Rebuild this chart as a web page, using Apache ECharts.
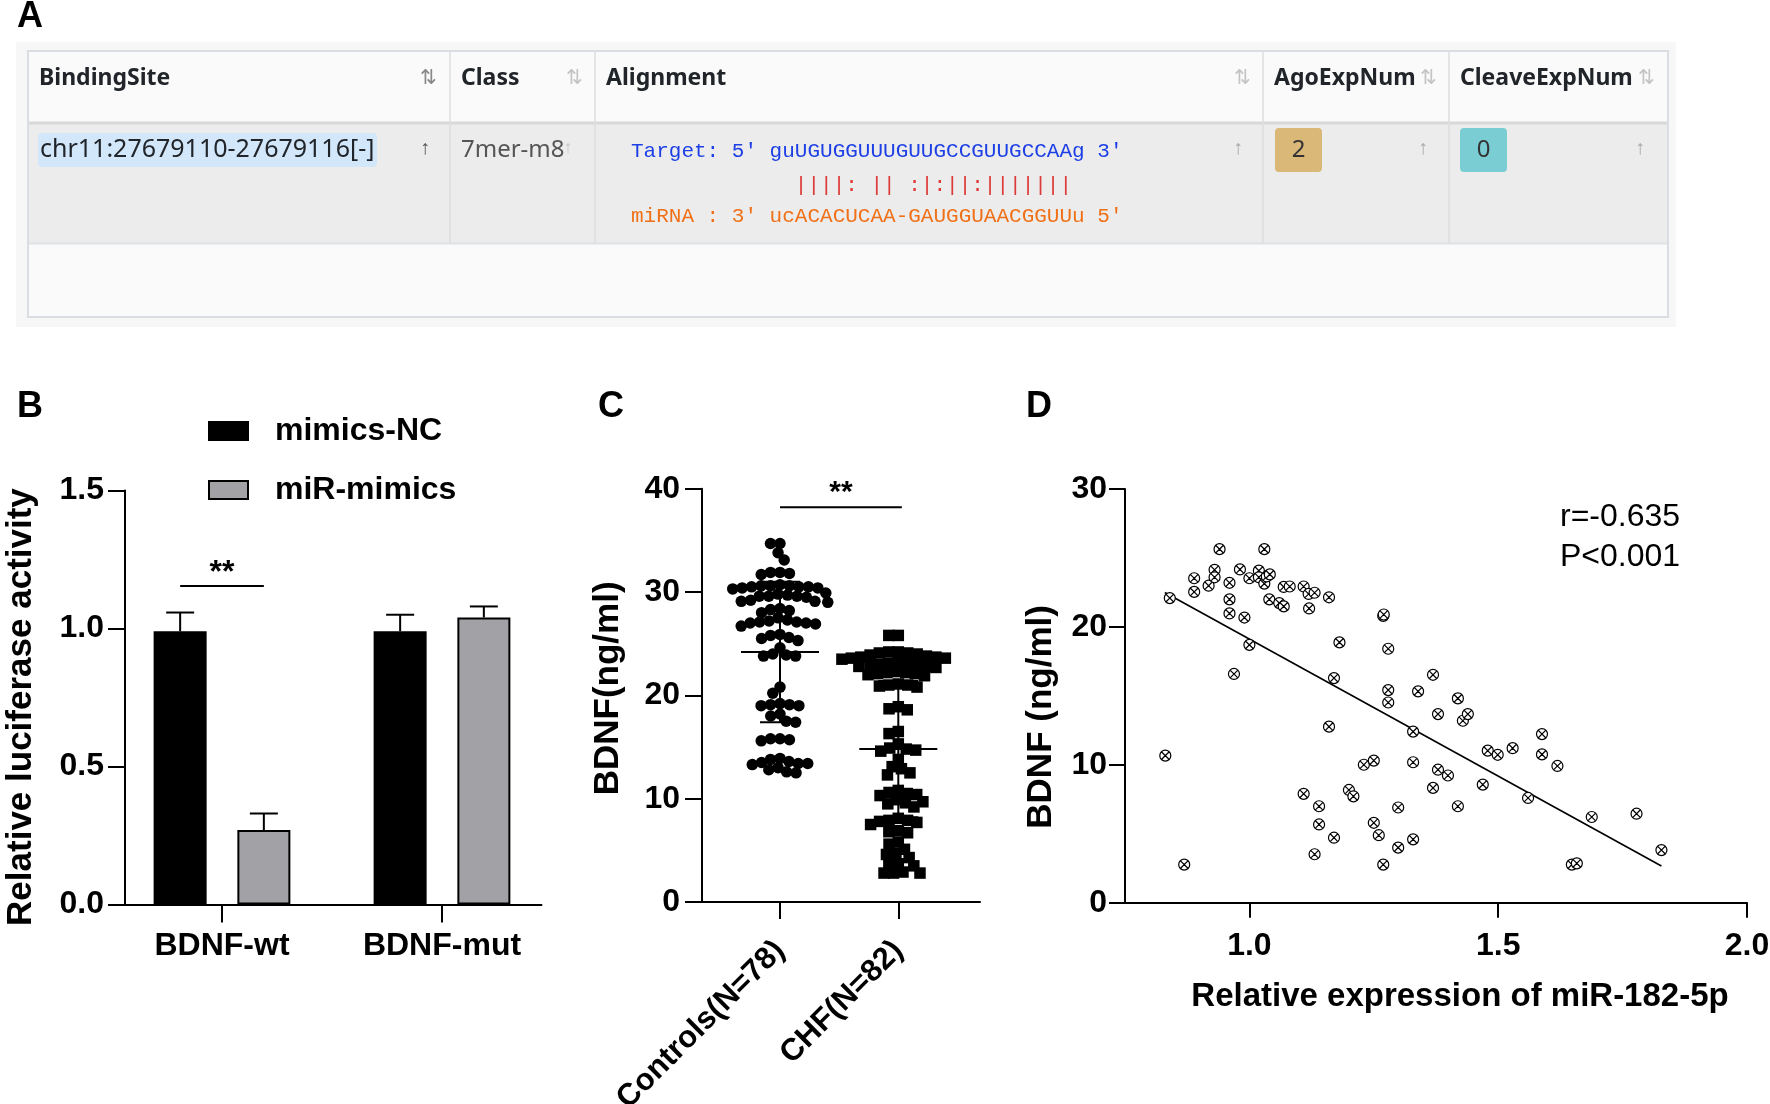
<!DOCTYPE html>
<html><head><meta charset="utf-8">
<script src="https://cdn.jsdelivr.net/npm/echarts@6/dist/echarts.min.js"></script>
<style>html,body{margin:0;padding:0;background:#fff}#c{width:1770px;height:1104px}</style>
</head><body><div id="c"></div>
<script>
// ================= DATA =================
// Panel A (table)
const tableHeaders = ['BindingSite', 'Class', 'Alignment', 'AgoExpNum', 'CleaveExpNum'];
const bindingSite = 'chr11:27679110-27679116[-]';
const siteClass = '7mer-m8';
const alignTarget = "Target: 5' guUGUGGUUUGUUGCCGUUGCCAAg 3'";
const alignPairs  = "             ||||: || :|:||:|||||||";
const alignMiRNA  = "miRNA : 3' ucACACUCAA-GAUGGUAACGGUUu 5'";
const agoExpNum = '2';
const cleaveExpNum = '0';

// Panel B (luciferase)
const bCategories = ['BDNF-wt', 'BDNF-mut'];
const bSeriesNames = ['mimics-NC', 'miR-mimics'];
const bMimicsNC = [0.99, 0.99];
const bMimicsNCErr = [0.068, 0.06];
const bMiRMimics = [0.27, 1.04];
const bMiRMimicsErr = [0.06, 0.04];
const bSigLevel = 1.154;
const bSigText = '**';

// Panel C (BDNF levels)
const cCategories = ['Controls(N=78)', 'CHF(N=82)'];
const cControls = [34.7, 34.7, 33.8, 33.1,
  31.9, 31.8, 31.9, 31.7,
  30.6, 30.5, 30.5, 30.4, 30.6, 30.5, 30.7, 30.4, 30.3, 30.6,
  29.6, 29.7, 29.5, 29.8, 29.6, 29.9, 29.6,
  29.1, 29.0, 29.2, 29.1,
  28.3, 28.2, 28.4, 28.0,
  27.1, 27.2, 27.0, 27.3, 26.9, 27.1, 27.5, 26.7, 27.0,
  25.8, 25.6, 25.3, 25.9, 25.5,
  23.9, 23.8, 24.0, 23.8, 24.6,
  20.8, 20.2,
  19.1, 19.0, 19.1, 19.0, 19.2,
  18.0, 18.2, 17.4, 17.5,
  15.8, 15.7, 15.8, 15.6,
  13.4, 13.3, 13.4, 13.6, 13.8, 13.9, 13.5, 13.0, 12.8, 12.6, 12.5];
const cCHF = [25.8, 25.8,
  24.2, 24.1, 24.0, 24.2, 24.1, 23.9,
  23.7, 23.6, 23.8, 23.5, 23.7, 23.6,
  23.1, 23.0, 23.2, 23.1, 22.9, 23.0,
  22.8, 22.7, 22.8,
  22.1, 22.2, 22.0, 22.1, 22.3, 22.2, 21.9,
  21.0, 20.9, 21.1, 20.8, 21.0,
  18.9, 18.6, 18.7,
  16.5, 16.3,
  15.3, 14.9, 14.7, 14.8, 14.6,
  13.8, 13.1, 12.9, 12.5, 12.3,
  10.8, 10.6, 10.4, 10.5, 10.3, 9.7, 9.9, 9.6, 9.5, 9.2,
  8.1, 7.9, 7.8, 7.9, 7.7, 7.5, 6.9, 6.8, 6.7,
  5.8, 5.6, 5.1, 4.7, 4.6, 4.3,
  3.7, 3.6, 3.5,
  2.8, 2.8, 2.8, 2.9];
const cMeans = [24.2, 14.8];
const cSDs = [6.8, 6.6];
const cSigFrom = 0, cSigTo = 1.03, cSigLevel = 38.2;
const cSigText = '**';

// Panel D (correlation)
const dPoints = [
  [0.831, 10.67], [0.840, 22.09], [0.869, 2.77], [0.889, 23.53], [0.889, 22.54],
  [0.918, 22.99], [0.930, 24.14], [0.930, 23.60], [0.940, 25.64], [0.960, 23.20],
  [0.960, 22.00], [0.960, 20.98], [0.969, 16.59], [0.981, 24.17], [0.990, 20.68],
  [1.000, 23.53], [1.000, 18.70], [1.019, 24.08], [1.019, 23.60], [1.030, 23.14],
  [1.030, 25.64], [1.035, 23.66], [1.041, 23.81], [1.040, 22.00], [1.060, 21.73],
  [1.069, 21.49], [1.069, 22.90], [1.081, 22.93], [1.109, 22.93], [1.119, 22.39],
  [1.131, 22.48], [1.120, 21.34], [1.160, 22.15], [1.109, 7.90], [1.140, 7.00],
  [1.140, 5.68], [1.131, 3.52], [1.160, 12.77], [1.170, 16.29], [1.170, 4.72],
  [1.181, 18.88], [1.200, 8.18], [1.209, 7.72], [1.230, 10.01], [1.250, 10.31],
  [1.250, 5.80], [1.260, 4.90], [1.269, 20.80], [1.270, 20.90], [1.269, 2.77],
  [1.279, 18.42], [1.279, 15.42], [1.279, 14.52], [1.299, 6.91], [1.299, 4.00],
  [1.329, 12.41], [1.329, 10.19], [1.329, 4.60], [1.339, 15.33], [1.369, 16.53],
  [1.369, 8.33], [1.379, 13.68], [1.379, 9.65], [1.399, 9.23], [1.419, 14.82],
  [1.419, 7.00], [1.429, 13.20], [1.439, 13.68], [1.469, 8.57], [1.479, 11.03],
  [1.499, 10.73], [1.529, 11.21], [1.560, 7.60], [1.588, 12.23], [1.588, 10.76],
  [1.619, 9.92], [1.648, 2.77], [1.658, 2.86], [1.688, 6.22], [1.778, 6.46],
  [1.828, 3.82]];
const dRegLine = [[0.83, 22.5], [1.828, 2.67]];
const dStatR = 'r=-0.635';
const dStatP = 'P<0.001';

// ================= LAYOUT / STYLE =================
const FONT = "'Liberation Sans', Arial, Helvetica, sans-serif";
const UIFONT = "'Noto Sans', 'Open Sans', sans-serif";
const MONO = "'Liberation Mono', 'DejaVu Sans Mono', monospace";
const gB = {left: 125, top: 490.5, width: 416.5, height: 414.1};
const gC = {left: 702, top: 488.7, width: 278, height: 413.3};
const gD = {left: 1125, top: 489, width: 622, height: 413.8};
const bXRange = [-0.4409, 1.4523];
const cXRange = [-0.6593, 1.6906];
const dXRange = [0.75, 2.0];
const BAR_OFF = 41.85;

const axLine = {show: true, onZero: false, lineStyle: {color: '#000', width: 2}};
function tick(len, custom) {
  const t = {show: true, length: len, lineStyle: {color: '#000', width: 2}};
  if (custom) t.customValues = custom;
  return t;
}
function lbl(size, margin, extra) {
  return Object.assign({color: '#000', fontFamily: FONT, fontWeight: 'bold', fontSize: size, margin: margin}, extra || {});
}
const nameStyle = (size, pad) => ({color: '#000', fontFamily: FONT, fontWeight: 'bold', fontSize: size, padding: pad});

// beeswarm horizontal layout (pixel based) for dot plot
function swarm(values, center, pxPerX, pxPerY, d) {
  const sorted = values.map(v => v).sort((a, b) => b - a);
  const placed = [];
  const out = [];
  sorted.forEach(v => {
    const y = v * pxPerY;
    const iv = [];
    placed.forEach(q => {
      const dy = Math.abs(q.y - y);
      if (dy < d) { const dx = Math.sqrt(d * d - dy * dy); iv.push([q.x - dx, q.x + dx]); }
    });
    const cands = [0];
    iv.forEach(r => cands.push(r[0], r[1]));
    cands.sort((a, b) => Math.abs(a) - Math.abs(b));
    let x = 0;
    for (const c of cands) {
      if (iv.every(r => c <= r[0] + 1e-6 || c >= r[1] - 1e-6)) { x = c; break; }
    }
    placed.push({x, y});
    out.push([center + x / pxPerX, v]);
  });
  return out;
}
const cPxX = gC.width / (cXRange[1] - cXRange[0]);
const cPxY = gC.height / 40;

function errBar(off) {
  return function (params, api) {
    const p0 = api.coord([api.value(0), api.value(1)]);
    const p1 = api.coord([api.value(0), api.value(1) + api.value(2)]);
    const cx = p0[0] + off;
    return {type: 'group', children: [
      {type: 'line', shape: {x1: cx, y1: p0[1], x2: cx, y2: p1[1]}, style: {stroke: '#000', lineWidth: 2}},
      {type: 'line', shape: {x1: cx - 14, y1: p1[1], x2: cx + 14, y2: p1[1]}, style: {stroke: '#000', lineWidth: 2}}
    ]};
  };
}

const graphics = [];
function txt(x, y, s, o) {
  graphics.push({type: 'text', x: x, y: y, silent: true,
    style: Object.assign({text: s, fill: '#000', font: 'bold 36px ' + FONT, textVerticalAlign: 'middle', textAlign: 'left'}, o || {})});
}
function rect(x, y, w, h, o) {
  graphics.push({type: 'rect', shape: {x: x, y: y, width: w, height: h, r: (o && o.r) || 0}, silent: true,
    style: Object.assign({fill: 'none'}, o && o.style)});
}
function hline(x1, y1, x2, y2, c, w) {
  graphics.push({type: 'line', shape: {x1, y1, x2, y2}, silent: true, style: {stroke: c, lineWidth: w}});
}

// ---- Panel A table ----
const cols = [28, 450, 595, 1263, 1449, 1668];
rect(16, 42, 1660, 285, {style: {fill: '#f7f7f7'}});
rect(28, 51, 1640, 71, {style: {fill: '#fafafa'}});
rect(28, 123, 1640, 120, {style: {fill: '#ececec'}});
rect(28, 244, 1640, 73, {style: {fill: '#fafafa'}});
hline(28, 123, 1668, 123, '#d8d8d8', 3);
hline(28, 243.5, 1668, 243.5, '#dfe2e5', 2);
for (let i = 1; i < cols.length - 1; i++) hline(cols[i], 51, cols[i], 243, '#dedede', 1.5);
rect(28, 51, 1640, 266, {style: {fill: 'none', stroke: '#dadde1', lineWidth: 2}});
const sortX = [428, 574, 1242, 1428, 1646];
tableHeaders.forEach((h, i) => {
  txt(cols[i] + 11, 78, h, {font: 'bold 23px ' + UIFONT, fill: '#212529'});
  txt(sortX[i], 78, '⇅', {font: '20px ' + FONT, fill: i === 0 ? '#888' : '#c4c4c4', textAlign: 'center'});
});
rect(38, 133, 339, 34, {r: 4, style: {fill: '#d3e7fb'}});
txt(40, 150, bindingSite, {font: '25px ' + UIFONT, fill: '#212529'});
txt(425, 148, '↑', {font: '20px ' + FONT, fill: '#555', textAlign: 'center'});
txt(461, 150, siteClass, {font: '24px ' + UIFONT, fill: '#555'});
txt(568, 148, '↑', {font: '18px ' + FONT, fill: '#c8c8c8', textAlign: 'center'});
txt(631, 151, alignTarget, {font: '21px ' + MONO, fill: '#1d3fe6'});
txt(631, 185, alignPairs, {font: '21px ' + MONO, fill: '#dd3a3a'});
txt(631, 216, alignMiRNA, {font: '21px ' + MONO, fill: '#f07018'});
[1238, 1423, 1640].forEach(x => txt(x, 148, '↑', {font: '20px ' + FONT, fill: '#aaa', textAlign: 'center'}));
rect(1275, 128, 47, 44, {r: 4, style: {fill: '#d9b878'}});
txt(1298.5, 150, agoExpNum, {font: '24px ' + UIFONT, fill: '#333', textAlign: 'center'});
rect(1460, 128, 47, 44, {r: 4, style: {fill: '#79cdd3'}});
txt(1483.5, 150, cleaveExpNum, {font: '24px ' + UIFONT, fill: '#333', textAlign: 'center'});

// panel letters
txt(17, 17, 'A', {font: 'bold 36px ' + FONT});
txt(17, 407, 'B', {font: 'bold 36px ' + FONT});
txt(598, 407, 'C', {font: 'bold 36px ' + FONT});
txt(1026, 407, 'D', {font: 'bold 36px ' + FONT});
// panel D stats text
txt(1560, 517, dStatR, {font: '32px ' + FONT});
txt(1560, 557, dStatP, {font: '32px ' + FONT});

const option = {
  animation: false,
  backgroundColor: '#fff',
  grid: [
    Object.assign({outerBoundsMode: 'none', containLabel: false}, gB),
    Object.assign({outerBoundsMode: 'none', containLabel: false}, gC),
    Object.assign({outerBoundsMode: 'none', containLabel: false}, gD)
  ],
  legend: {
    left: 208, top: 415, orient: 'vertical', itemWidth: 39, itemHeight: 18, itemGap: 27,
    padding: 0, selectedMode: false, icon: 'rect',
    data: bSeriesNames,
    textStyle: {color: '#000', fontFamily: FONT, fontWeight: 'bold', fontSize: 32, padding: [0, 0, 0, 22]}
  },
  xAxis: [
    {gridIndex: 0, type: 'value', min: bXRange[0], max: bXRange[1],
      axisLine: axLine, axisTick: tick(18, [0, 1]),
      axisLabel: lbl(32, 26, {customValues: [0, 1], formatter: v => bCategories[Math.round(v)]}),
      splitLine: {show: false}},
    {gridIndex: 1, type: 'value', min: cXRange[0], max: cXRange[1],
      axisLine: axLine, axisTick: tick(17, [0, 1]),
      axisLabel: lbl(31, 44, {customValues: [0, 1], rotate: 45, formatter: v => cCategories[Math.round(v)]}),
      splitLine: {show: false}},
    {gridIndex: 2, type: 'value', min: dXRange[0], max: dXRange[1],
      axisLine: axLine, axisTick: tick(15, [1, 1.5, 2]),
      axisLabel: lbl(32, 27, {customValues: [1, 1.5, 2], formatter: v => v.toFixed(1)}),
      splitLine: {show: false},
      name: 'Relative expression of miR-182-5p', nameLocation: 'middle', nameGap: 78,
      nameTextStyle: nameStyle(33, [0, 0, 0, 48])}
  ],
  yAxis: [
    {gridIndex: 0, type: 'value', min: 0, max: 1.5, interval: 0.5,
      axisLine: axLine, axisTick: tick(17),
      axisLabel: lbl(32, 21, {formatter: v => v.toFixed(1)}),
      splitLine: {show: false},
      name: 'Relative luciferase activity', nameLocation: 'middle', nameGap: 86, nameRotate: 90,
      nameTextStyle: nameStyle(35, [0, 19, 0, 0])},
    {gridIndex: 1, type: 'value', min: 0, max: 40, interval: 10,
      axisLine: axLine, axisTick: tick(17),
      axisLabel: lbl(32, 22),
      splitLine: {show: false},
      name: 'BDNF(ng/ml)', nameLocation: 'middle', nameGap: 76, nameRotate: 90,
      nameTextStyle: nameStyle(35, [0, 0, 0, 14])},
    {gridIndex: 2, type: 'value', min: 0, max: 30, interval: 10,
      axisLine: axLine, axisTick: tick(16),
      axisLabel: lbl(32, 18),
      splitLine: {show: false},
      name: 'BDNF (ng/ml)', nameLocation: 'middle', nameGap: 66, nameRotate: 90,
      nameTextStyle: nameStyle(35, [0, 42, 0, 0])}
  ],
  series: [
    // ---- B ----
    {type: 'bar', name: bSeriesNames[0], xAxisIndex: 0, yAxisIndex: 0,
      data: bCategories.map((c, i) => [i, bMimicsNC[i]]), barWidth: 53, barGap: '58%',
      itemStyle: {color: '#000', borderColor: '#000', borderWidth: 2}, z: 2},
    {type: 'bar', name: bSeriesNames[1], xAxisIndex: 0, yAxisIndex: 0,
      data: bCategories.map((c, i) => [i, bMiRMimics[i]]), barWidth: 53, barGap: '58%',
      itemStyle: {color: '#a2a2a6', borderColor: '#000', borderWidth: 2}, z: 2},
    {type: 'custom', xAxisIndex: 0, yAxisIndex: 0, z: 3, renderItem: errBar(-BAR_OFF),
      data: bCategories.map((c, i) => [i, bMimicsNC[i], bMimicsNCErr[i]])},
    {type: 'custom', xAxisIndex: 0, yAxisIndex: 0, z: 3, renderItem: errBar(BAR_OFF),
      data: bCategories.map((c, i) => [i, bMiRMimics[i], bMiRMimicsErr[i]])},
    {type: 'custom', xAxisIndex: 0, yAxisIndex: 0, z: 3, data: [[0, bSigLevel]],
      renderItem: (params, api) => {
        const p = api.coord([api.value(0), api.value(1)]);
        return {type: 'group', children: [
          {type: 'line', shape: {x1: p[0] - BAR_OFF, y1: p[1], x2: p[0] + BAR_OFF, y2: p[1]}, style: {stroke: '#000', lineWidth: 2}},
          {type: 'text', x: p[0], y: p[1] + 3, style: {text: bSigText, font: 'bold 32px ' + FONT, fill: '#000', textAlign: 'center', textVerticalAlign: 'bottom'}}
        ]};
      }},
    // ---- C ----
    {type: 'scatter', xAxisIndex: 1, yAxisIndex: 1, symbol: 'circle', symbolSize: 11.5, z: 2,
      itemStyle: {color: '#000', opacity: 1}, data: swarm(cControls, 0, cPxX, cPxY, 9.5)},
    {type: 'scatter', xAxisIndex: 1, yAxisIndex: 1, symbol: 'rect', symbolSize: 11.5, z: 2,
      itemStyle: {color: '#000', opacity: 1}, data: swarm(cCHF, 1, cPxX, cPxY, 9.5)},
    {type: 'custom', xAxisIndex: 1, yAxisIndex: 1, z: 4,
      data: cMeans.map((m, i) => [i, m, cSDs[i]]),
      renderItem: (params, api) => {
        const x = api.value(0), m = api.value(1), s = api.value(2);
        const pm = api.coord([x, m]), pu = api.coord([x, m + s]), pl = api.coord([x, m - s]);
        const st = {stroke: '#000', lineWidth: 2};
        return {type: 'group', children: [
          {type: 'line', shape: {x1: pm[0] - 39, y1: pm[1], x2: pm[0] + 39, y2: pm[1]}, style: st},
          {type: 'line', shape: {x1: pm[0], y1: pu[1], x2: pm[0], y2: pl[1]}, style: st},
          {type: 'line', shape: {x1: pm[0] - 20, y1: pu[1], x2: pm[0] + 20, y2: pu[1]}, style: st},
          {type: 'line', shape: {x1: pm[0] - 20, y1: pl[1], x2: pm[0] + 20, y2: pl[1]}, style: st}
        ]};
      }},
    {type: 'custom', xAxisIndex: 1, yAxisIndex: 1, z: 4, data: [[cSigFrom, cSigTo, cSigLevel]],
      renderItem: (params, api) => {
        const a = api.coord([api.value(0), api.value(2)]), b = api.coord([api.value(1), api.value(2)]);
        return {type: 'group', children: [
          {type: 'line', shape: {x1: a[0], y1: a[1], x2: b[0], y2: b[1]}, style: {stroke: '#000', lineWidth: 2}},
          {type: 'text', x: (a[0] + b[0]) / 2, y: a[1], style: {text: cSigText, font: 'bold 30px ' + FONT, fill: '#000', textAlign: 'center', textVerticalAlign: 'bottom'}}
        ]};
      }},
    // ---- D ----
    {type: 'scatter', xAxisIndex: 2, yAxisIndex: 2, z: 3,
      symbol: 'path://M10,5A5,5,0,1,1,0,5A5,5,0,1,1,10,5Z M1.9,1.9L8.1,8.1M8.1,1.9L1.9,8.1',
      symbolSize: 11, itemStyle: {color: '#fff', borderColor: '#000', borderWidth: 1.2, opacity: 1},
      data: dPoints},
    {type: 'line', xAxisIndex: 2, yAxisIndex: 2, z: 2, symbol: 'none',
      lineStyle: {color: '#000', width: 1.6}, data: dRegLine}
  ],
  graphic: graphics
};
const chart = echarts.init(document.getElementById('c'), null, {width: 1770, height: 1104});
chart.setOption(option);
</script></body></html>
